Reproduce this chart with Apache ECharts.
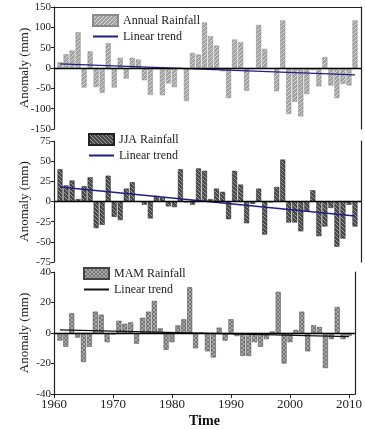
<!DOCTYPE html>
<html>
<head>
<meta charset="utf-8">
<script src="https://cdn.jsdelivr.net/npm/echarts@6/dist/echarts.min.js"></script>
<style>
  html, body { margin: 0; padding: 0; background: #fff; }
  #chart { width: 365px; height: 430px; }
</style>
</head>
<body>
<div id="chart"></div>
<script>
const years = [1961, 1962, 1963, 1964, 1965, 1966, 1967, 1968, 1969, 1970,
  1971, 1972, 1973, 1974, 1975, 1976, 1977, 1978, 1979, 1980,
  1981, 1982, 1983, 1984, 1985, 1986, 1987, 1988, 1989, 1990,
  1991, 1992, 1993, 1994, 1995, 1996, 1997, 1998, 1999, 2000,
  2001, 2002, 2003, 2004, 2005, 2006, 2007, 2008, 2009, 2010]

const annual = [14, 34, 43, 88, -48, 41, -47, -61, 61, -48,
  25, -26, 25, 21, -30, -66, -3, -67, -38, -47,
  -2, -81, 37, 33, 112, 78, 55, -8, -74, 70,
  63, -56, -3, 106, 47, -2, -57, 117, -113, -83,
  -119, -64, -5, -45, 27, -43, -74, -39, -43, 117]

const jja = [40, 20, 26, 3, 19, 30, -33, -29, 32, -19,
  -23, 16, 24, 0, -4, -21, 7, 5, -6, -7,
  40, -1, -4, 41, 38, 3, 16, 12, -22, 38,
  21, -27, -3, 16, -41, -1, 18, 52, -26, -26,
  -37, -12, 14, -43, -31, -8, -56, -46, -4, -31]

const mam = [-5, -9, 13, -3, -19, -9, 14, 12, -6, -1,
  8, 6, 7, -7, 10, 14, 21, 3, -11, -6,
  5, 9, 30, -10, 0, -12, -16, 3.5, -5, 9,
  -2, -15, -15, -6, -9, -4, 1, 27, -20, -6,
  2, 14, -12, 5, 4, -23, -4, 17, -4, -2]

// trend lines: value at first and last year
const trendYears = [1961, 2010]
const annualTrend = [10, -17]
const jjaTrend = [18, -18]
const mamTrend = [2, -2.4]

const tickYears = [1960, 1970, 1980, 1990, 2000, 2010]
const yRanges = [[-150, 150, 50], [-75, 75, 25], [-40, 40, 20]]

const FONT = 'Liberation Serif'

function makePattern(bg, fg, kind) {
  const c = document.createElement('canvas')
  c.width = 4
  c.height = 4
  const ctx = c.getContext('2d')
  ctx.fillStyle = bg
  ctx.fillRect(0, 0, 4, 4)
  ctx.fillStyle = fg
  for (let i = 0; i < 4; i++) {
    if (kind === '/' || kind === 'x') ctx.fillRect(i, 3 - i, 1, 1)
    if (kind === '\\' || kind === 'x') ctx.fillRect(i, i, 1, 1)
  }
  return { image: c, repeat: 'repeat' }
}

const grids = [
  { left: 54, right: 4, top: 7, height: 122 },
  { left: 54, right: 4, top: 141, height: 121 },
  { left: 54, right: 4, top: 272, height: 122 }
]

const xAxes = [0, 1, 2].map(i => ({
  type: 'value',
  gridIndex: i,
  min: 1960,
  max: 2011,
  interval: 10,
  position: i === 0 ? 'top' : 'bottom',
  axisLine: { show: i !== 1, onZero: false, lineStyle: { color: '#222', width: 1.2 } },
  axisTick: {
    show: i === 2,
    customValues: tickYears,
    length: 4,
    lineStyle: { color: '#222' }
  },
  axisLabel: {
    show: i === 2,
    customValues: tickYears,
    formatter: v => String(v),
    margin: 4,
    fontFamily: FONT,
    fontSize: 13,
    color: '#222'
  },
  splitLine: { show: false },
  name: i === 2 ? 'Time' : '',
  nameLocation: 'middle',
  nameGap: 20,
  nameTextStyle: { fontFamily: FONT, fontSize: 14, fontWeight: 'bold', color: '#111' }
}))

const yAxes = []
yRanges.forEach((r, i) => {
  yAxes.push({
    type: 'value',
    gridIndex: i,
    min: r[0],
    max: r[1],
    interval: r[2],
    axisLine: { show: true, lineStyle: { color: '#222', width: 1.2 } },
    axisTick: { show: true, length: 3, lineStyle: { color: '#222' } },
    axisLabel: { margin: 3, fontFamily: FONT, fontSize: 11, color: '#222' },
    splitLine: { show: false },
    name: 'Anomaly (mm)',
    nameLocation: 'middle',
    nameGap: 23,
    nameMoveOverlap: false,
    nameTextStyle: { fontFamily: FONT, fontSize: 13, color: '#222' }
  })
  yAxes.push({
    type: 'value',
    gridIndex: i,
    min: r[0],
    max: r[1],
    position: 'right',
    axisLine: { show: true, lineStyle: { color: '#222', width: 1.2 } },
    axisTick: { show: false },
    axisLabel: { show: false },
    splitLine: { show: false }
  })
})

const zeroLine = {
  silent: true,
  symbol: 'none',
  label: { show: false },
  lineStyle: { color: '#000', width: 1.3, type: 'solid' },
  data: [{ yAxis: 0 }]
}

function barSeries(name, values, i, fill, border) {
  return {
    name: name,
    type: 'bar',
    xAxisIndex: i,
    yAxisIndex: i * 2,
    barWidth: 5,
    data: years.map((y, k) => [y, values[k]]),
    itemStyle: { color: fill, borderColor: border, borderWidth: 0.5 },
    markLine: zeroLine,
    z: 2
  }
}

function trendSeries(name, values, i, color) {
  return {
    name: name,
    type: 'line',
    xAxisIndex: i,
    yAxisIndex: i * 2,
    symbol: 'none',
    data: trendYears.map((y, k) => [y, values[k]]),
    lineStyle: { color: color, width: 1.3 },
    itemStyle: { color: color },
    z: 3
  }
}

const annualFill = makePattern('#a2a2a2', '#d8d8d8', '/')
const jjaFill = makePattern('#4a4a4a', '#9c9c9c', '\\')
const mamFill = makePattern('#777777', '#a9a9a9', 'x')

const series = [
  barSeries('Annual Rainfall', annual, 0, annualFill, '#8a8a8a'),
  trendSeries('Linear trend ', annualTrend, 0, '#1f1f8a'),
  barSeries('JJA Rainfall', jja, 1, jjaFill, '#222'),
  trendSeries('Linear trend  ', jjaTrend, 1, '#1f1f8a'),
  barSeries('MAM Rainfall', mam, 2, mamFill, '#444'),
  trendSeries('Linear trend', mamTrend, 2, '#111')
]

function legend(names, left, top) {
  return {
    data: [
      { name: names[0], icon: 'rect' },
      { name: names[1], itemStyle: { opacity: 0 } }
    ],
    left: left,
    top: top,
    padding: 0,
    orient: 'vertical',
    itemWidth: 25,
    itemHeight: 11,
    itemGap: 3.5,
    selectedMode: false,
    textStyle: { fontFamily: FONT, fontSize: 12, color: '#222' },
    formatter: n => n.trim()
  }
}

const option = {
  animation: false,
  backgroundColor: '#fff',
  grid: grids,
  xAxis: xAxes,
  yAxis: yAxes,
  legend: [
    legend(['Annual Rainfall', 'Linear trend '], 92, 14),
    legend(['JJA Rainfall', 'Linear trend  '], 88, 133),
    legend(['MAM Rainfall', 'Linear trend'], 83, 267)
  ],
  series: series
}

const chart = echarts.init(document.getElementById('chart'))
chart.setOption(option)
window.addEventListener('resize', () => chart.resize())
</script>
</body>
</html>
